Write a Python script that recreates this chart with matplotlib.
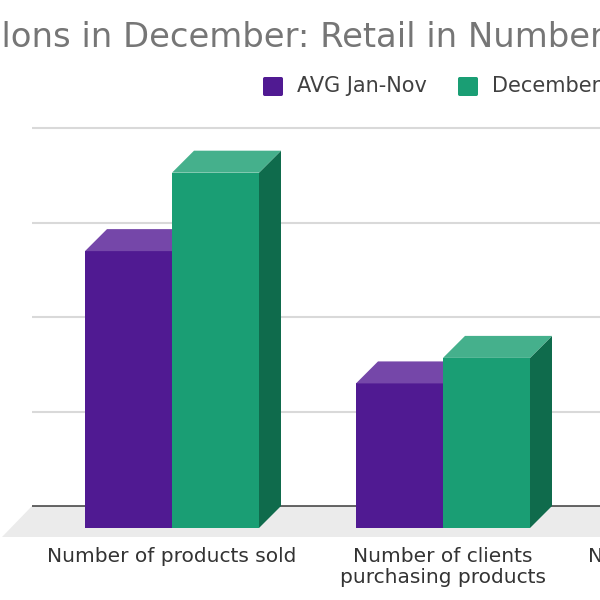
import matplotlib
matplotlib.use("Agg")
import matplotlib.pyplot as plt
import matplotlib.transforms as mtransforms
from matplotlib.patches import Polygon, FancyBboxPatch

plt.rcParams["font.family"] = ["DejaVu Sans"]

# data (in grid units; 3rd group is outside the crop)
categories = ["Number of products sold",
              "Number of clients\npurchasing products",
              "Number of sales receipts"]
avg_jan_nov = [2.93, 1.53, 1.20]
december = [3.76, 1.80, 1.45]
series_names = ["AVG Jan-Nov", "December"]

purple = "#501a92"
purple_top = "#7547a9"
purple_side = "#3a1170"
green = "#1a9e74"
green_top = "#45b08c"
green_side = "#0f6b4c"

fig = plt.figure(figsize=(6, 6), dpi=100)
W, H = 600, 600

# axes: left edge = back wall edge, bottom = front of floor
x_left_px, y_base_px, unit_px, gap_px = 32, 506, 94.5, 271
ymin, ymax = -0.35, 4.05
ax = fig.add_axes([x_left_px / W, (H - y_base_px + ymin * unit_px) / H,
                   1 - x_left_px / W, (ymax - ymin) * unit_px / H])
xmin = (x_left_px - 172) / gap_px
xmax = (W - 172) / gap_px

bw = 87 / gap_px     # bar width
dx = 22 / gap_px     # depth in x
dy = 22 / unit_px    # depth in y
floor = 31 / unit_px

# floor
ax.add_patch(Polygon([(xmin, 0), (xmax + 1, 0), (xmax + 1, -floor),
                      (xmin - 30 / gap_px, -floor)],
                     closed=True, color="#ebebeb", lw=0, zorder=1, clip_on=False))
ax.axhline(0, color="#3a3a3a", lw=1.1, zorder=1.5)

def bar3d(x0, v, front, top, side, z):
    ax.bar(x0, v, width=bw, bottom=-dy, align="edge", color=front, lw=0, zorder=z)
    x1 = x0 + bw
    ax.add_patch(Polygon([(x0, v - dy), (x1, v - dy), (x1 + dx, v), (x0 + dx, v)],
                         closed=True, color=top, lw=0, zorder=z))
    ax.add_patch(Polygon([(x1, -dy), (x1, v - dy), (x1 + dx, v), (x1 + dx, 0)],
                         closed=True, color=side, lw=0, zorder=z - 0.1))

for i in range(len(categories)):
    bar3d(i - bw, avg_jan_nov[i], purple, purple_top, purple_side, 3)
    bar3d(i, december[i], green, green_top, green_side, 4)

ax.set_yticks([1, 2, 3, 4])
ax.set_yticklabels([])
ax.grid(axis="y", color="#d9d9d9", lw=1.5)
ax.set_axisbelow(True)
ax.set_xticks([])
ax.tick_params(length=0)
ax.set_xlim(xmin, xmax)
ax.set_ylim(ymin, ymax)
for s in ax.spines.values():
    s.set_visible(False)

# category labels (drawn as text so the one past the crop edge still shows)
lab_tr = mtransforms.blended_transform_factory(ax.transData, ax.transAxes) + \
    mtransforms.ScaledTranslation(0, -6 / 72, fig.dpi_scale_trans)
for i, lab in enumerate(categories):
    ax.text(i, 0, lab, transform=lab_tr, ha="center", va="top", fontsize=14.5,
            color="#333333", linespacing=1.1, multialignment="center", clip_on=False)

# title, cropped on both sides like the reference
title = "Beauty Salons in December: Retail in Numbers"
tsize = 24.4
renderer = fig.canvas.get_renderer()
tmp = fig.text(0, 0, "lons in December: Retail in Numbers", fontsize=tsize)
suf_w = tmp.get_window_extent(renderer).width
tmp.remove()
fig.text((1 + suf_w) / W, 1 - 46.5 / H, title, fontsize=tsize, color="#767676",
         va="baseline", ha="right")

# legend
legend_items = [(263, purple), (458, green)]
for (lx, col), name in zip(legend_items, series_names):
    fig.patches.append(FancyBboxPatch((lx / W, 1 - 96 / H), 20 / W, 19 / H,
                                      boxstyle="round,pad=0,rounding_size=0.003",
                                      transform=fig.transFigure, color=col, lw=0))
    fig.text((lx + 34) / W, 1 - 86 / H, name, fontsize=15, color="#404040",
             va="center", ha="left")

fig.savefig("out.png", dpi=100)
